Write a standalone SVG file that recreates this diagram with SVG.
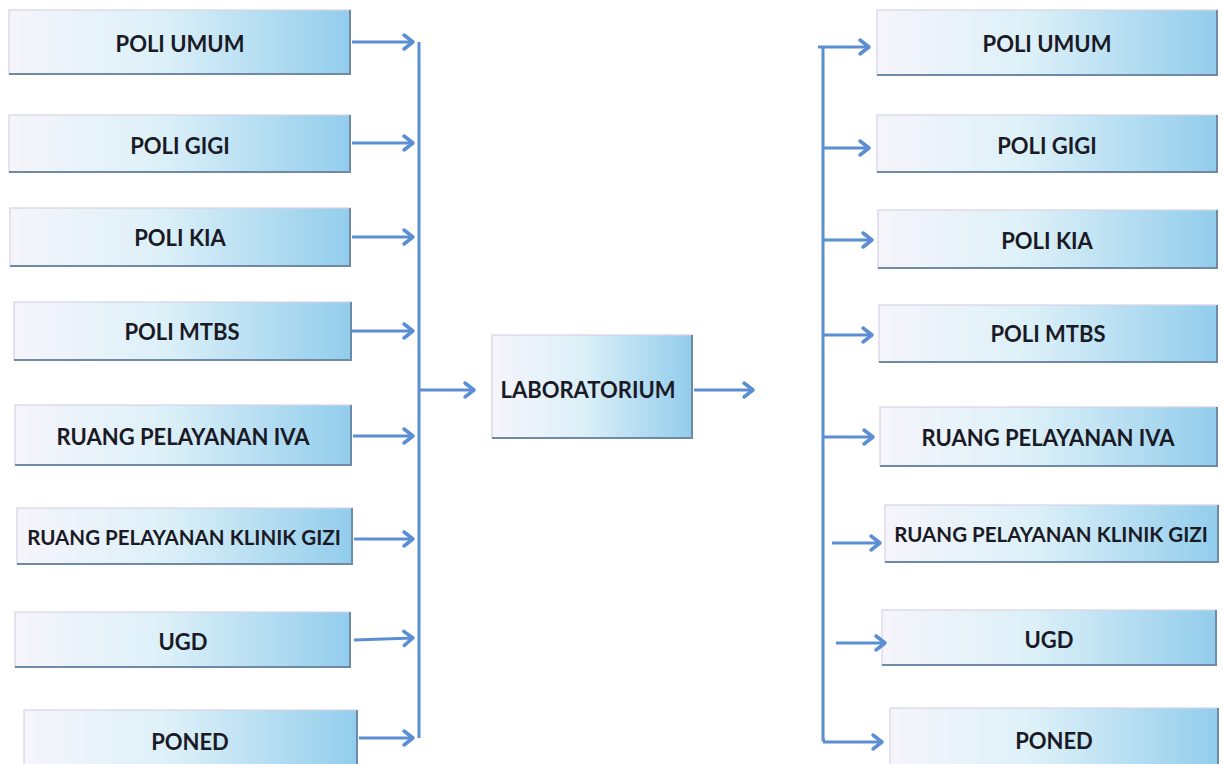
<svg xmlns="http://www.w3.org/2000/svg" width="1223" height="764" viewBox="0 0 1223 764">
<defs>
<linearGradient id="g" x1="0" y1="0" x2="1" y2="0">
<stop offset="0" stop-color="#f6f5fb"/>
<stop offset="0.45" stop-color="#dcf0f8"/>
<stop offset="1" stop-color="#92cdec"/>
</linearGradient>
<marker id="ah" markerUnits="userSpaceOnUse" markerWidth="20" markerHeight="20" viewBox="-12 -10 14 20" refX="0" refY="0" orient="auto">
<path d="M-9,-7 L0,0 L-9,7" fill="none" stroke="#5b8ed2" stroke-width="3.5" stroke-linecap="round" stroke-linejoin="round"/>
</marker>
<style>
.box rect.b{fill:url(#g);stroke:#d6d2e6;stroke-width:1.2}
.box path.e{fill:none;stroke:#6f8aa6;stroke-width:2}
.box text{font-family:Lato,"Open Sans",sans-serif;font-weight:bold;font-size:22px;fill:#1a1a26;text-anchor:middle;dominant-baseline:central}
.box text.long{font-size:20.5px}
.c line,.c path{stroke:#5b8ed2;stroke-width:3;fill:none}
.c .a{marker-end:url(#ah)}
</style>
</defs>
<rect width="1223" height="764" fill="#ffffff"/>
<g id="l1" class="box"><rect class="b" x="9" y="10" width="341" height="64"/><path class="e" d="M350,10 V74 H9"/><text x="180" y="43">POLI UMUM</text></g>
<g id="l2" class="box"><rect class="b" x="9" y="115" width="341" height="57"/><path class="e" d="M350,115 V172 H9"/><text x="180" y="145">POLI GIGI</text></g>
<g id="l3" class="box"><rect class="b" x="10" y="208" width="340" height="58"/><path class="e" d="M350,208 V266 H10"/><text x="180" y="237">POLI KIA</text></g>
<g id="l4" class="box"><rect class="b" x="14" y="302" width="337" height="58"/><path class="e" d="M351,302 V360 H14"/><text x="182" y="331">POLI MTBS</text></g>
<g id="l5" class="box"><rect class="b" x="15" y="405" width="336" height="60"/><path class="e" d="M351,405 V465 H15"/><text x="183" y="436">RUANG PELAYANAN IVA</text></g>
<g id="l6" class="box"><rect class="b" x="17" y="508" width="335" height="56"/><path class="e" d="M352,508 V564 H17"/><text class="long" x="184" y="537">RUANG PELAYANAN KLINIK GIZI</text></g>
<g id="l7" class="box"><rect class="b" x="15" y="612" width="335" height="55"/><path class="e" d="M350,612 V667 H15"/><text x="183" y="641">UGD</text></g>
<g id="l8" class="box"><rect class="b" x="24" y="710" width="333" height="60"/><path class="e" d="M357,710 V770"/><text x="190" y="741">PONED</text></g>
<g id="lab" class="box"><rect class="b" x="492" y="335" width="200" height="103"/><path class="e" d="M692,335 V438 H492"/><text x="588" y="389">LABORATORIUM</text></g>
<g id="r1" class="box"><rect class="b" x="877" y="10" width="340" height="65"/><path class="e" d="M1217,10 V75 H877"/><text x="1047" y="43">POLI UMUM</text></g>
<g id="r2" class="box"><rect class="b" x="877" y="115" width="340" height="57"/><path class="e" d="M1217,115 V172 H877"/><text x="1047" y="145">POLI GIGI</text></g>
<g id="r3" class="box"><rect class="b" x="878" y="210" width="339" height="58"/><path class="e" d="M1217,210 V268 H878"/><text x="1047" y="240">POLI KIA</text></g>
<g id="r4" class="box"><rect class="b" x="879" y="305" width="338" height="57"/><path class="e" d="M1217,305 V362 H879"/><text x="1048" y="333">POLI MTBS</text></g>
<g id="r5" class="box"><rect class="b" x="880" y="407" width="337" height="59"/><path class="e" d="M1217,407 V466 H880"/><text x="1048" y="437">RUANG PELAYANAN IVA</text></g>
<g id="r6" class="box"><rect class="b" x="885" y="505" width="333" height="57"/><path class="e" d="M1218,505 V562 H885"/><text class="long" x="1051" y="534">RUANG PELAYANAN KLINIK GIZI</text></g>
<g id="r7" class="box"><rect class="b" x="882" y="610" width="334" height="55"/><path class="e" d="M1216,610 V665 H882"/><text x="1049" y="639">UGD</text></g>
<g id="r8" class="box"><rect class="b" x="890" y="708" width="328" height="62"/><path class="e" d="M1218,708 V770"/><text x="1054" y="740">PONED</text></g>
<g id="connectors" class="c">
<line class="a" x1="352" y1="42" x2="413" y2="42"/>
<line class="a" x1="352" y1="143" x2="413" y2="143"/>
<line class="a" x1="352" y1="237" x2="413" y2="237"/>
<line class="a" x1="352" y1="331" x2="413" y2="331"/>
<line class="a" x1="353" y1="436" x2="413" y2="436"/>
<line class="a" x1="354" y1="539" x2="413" y2="539"/>
<line class="a" x1="354" y1="640" x2="413" y2="638"/>
<line class="a" x1="359" y1="738" x2="413" y2="738"/>
<line x1="419" y1="42" x2="419" y2="738"/>
<line class="a" x1="420" y1="390" x2="474" y2="390"/>
<line class="a" x1="694" y1="390" x2="753" y2="390"/>
<path d="M823,48 V740 H825"/>
<line class="a" x1="818" y1="47" x2="869" y2="47"/>
<line class="a" x1="823" y1="148" x2="869" y2="148"/>
<line class="a" x1="823" y1="240" x2="872" y2="240"/>
<line class="a" x1="823" y1="335" x2="872" y2="335"/>
<line class="a" x1="823" y1="437" x2="873" y2="437"/>
<line class="a" x1="832" y1="543" x2="880" y2="543"/>
<line class="a" x1="836" y1="643" x2="885" y2="643"/>
<line class="a" x1="823" y1="742" x2="882" y2="742"/>
</g>
</svg>
